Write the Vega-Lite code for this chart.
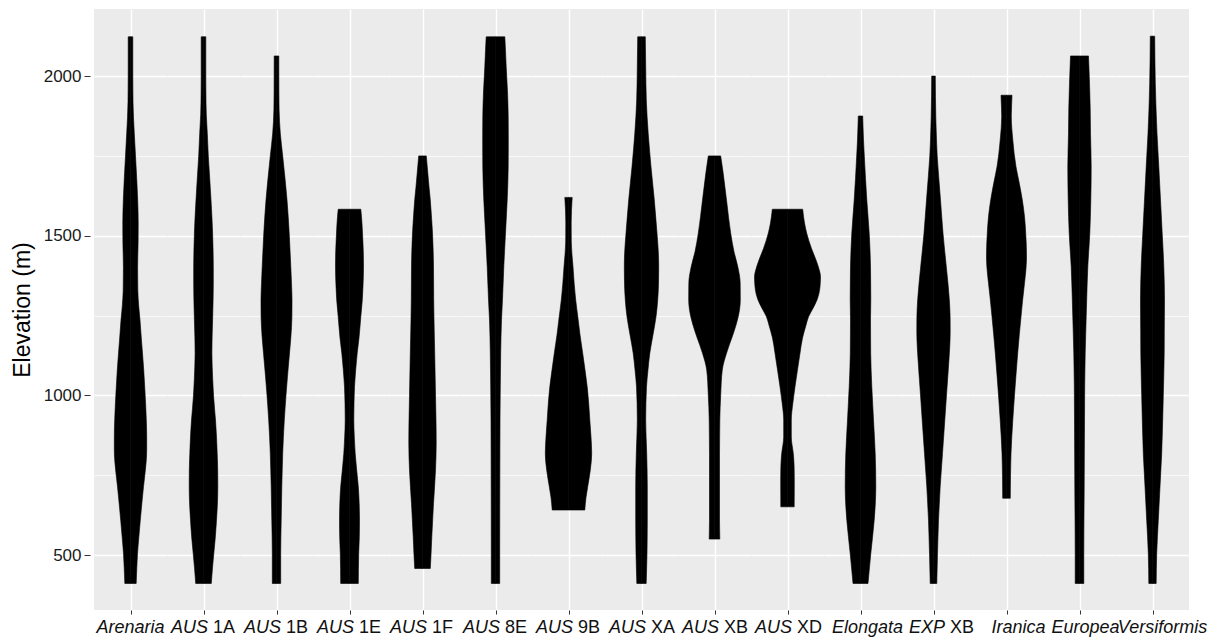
{
  "$schema": "https://vega.github.io/schema/vega-lite/v6.json",
  "padding": {"left": 11, "top": 9, "right": 5, "bottom": 0},
  "background": "white",
  "spacing": 0,
  "bounds": "flush",
  "data": {"values": [
    {"sp":"Arenaria","e":2123,"w":2.3},{"sp":"Arenaria","e":2000,"w":2.3},{"sp":"Arenaria","e":1920,"w":2.5},{"sp":"Arenaria","e":1870,"w":3},{"sp":"Arenaria","e":1820,"w":3.8},{"sp":"Arenaria","e":1750,"w":5},{"sp":"Arenaria","e":1680,"w":6.2},{"sp":"Arenaria","e":1610,"w":7.2},{"sp":"Arenaria","e":1540,"w":7.7},{"sp":"Arenaria","e":1480,"w":7.6},{"sp":"Arenaria","e":1400,"w":7.1},{"sp":"Arenaria","e":1330,"w":7.3},{"sp":"Arenaria","e":1280,"w":8.2},{"sp":"Arenaria","e":1236,"w":9.5},{"sp":"Arenaria","e":1180,"w":10.8},{"sp":"Arenaria","e":1132,"w":12},{"sp":"Arenaria","e":1080,"w":13.2},{"sp":"Arenaria","e":1027,"w":14.2},{"sp":"Arenaria","e":975,"w":15.1},{"sp":"Arenaria","e":923,"w":15.8},{"sp":"Arenaria","e":870,"w":16.2},{"sp":"Arenaria","e":830,"w":16.2},{"sp":"Arenaria","e":790,"w":15.6},{"sp":"Arenaria","e":750,"w":14.3},{"sp":"Arenaria","e":714,"w":13},{"sp":"Arenaria","e":660,"w":11.3},{"sp":"Arenaria","e":609,"w":9.8},{"sp":"Arenaria","e":555,"w":8.3},{"sp":"Arenaria","e":505,"w":7},{"sp":"Arenaria","e":460,"w":6.3},{"sp":"Arenaria","e":411,"w":5.7},

    {"sp":"AUS 1A","e":2123,"w":2.3},{"sp":"AUS 1A","e":2000,"w":2.3},{"sp":"AUS 1A","e":1950,"w":2.4},{"sp":"AUS 1A","e":1880,"w":2.8},{"sp":"AUS 1A","e":1820,"w":3.8},{"sp":"AUS 1A","e":1750,"w":4.8},{"sp":"AUS 1A","e":1680,"w":6.2},{"sp":"AUS 1A","e":1612,"w":7.5},{"sp":"AUS 1A","e":1560,"w":8.4},{"sp":"AUS 1A","e":1508,"w":9.1},{"sp":"AUS 1A","e":1450,"w":9.6},{"sp":"AUS 1A","e":1403,"w":9.8},{"sp":"AUS 1A","e":1350,"w":9.8},{"sp":"AUS 1A","e":1300,"w":9.6},{"sp":"AUS 1A","e":1236,"w":9.1},{"sp":"AUS 1A","e":1180,"w":8.6},{"sp":"AUS 1A","e":1132,"w":8.4},{"sp":"AUS 1A","e":1090,"w":8.7},{"sp":"AUS 1A","e":1050,"w":9.2},{"sp":"AUS 1A","e":1001,"w":10},{"sp":"AUS 1A","e":960,"w":11},{"sp":"AUS 1A","e":923,"w":12},{"sp":"AUS 1A","e":870,"w":13},{"sp":"AUS 1A","e":818,"w":13.7},{"sp":"AUS 1A","e":766,"w":14.2},{"sp":"AUS 1A","e":714,"w":14.3},{"sp":"AUS 1A","e":660,"w":13.9},{"sp":"AUS 1A","e":609,"w":13},{"sp":"AUS 1A","e":555,"w":11.8},{"sp":"AUS 1A","e":505,"w":10.3},{"sp":"AUS 1A","e":460,"w":9},{"sp":"AUS 1A","e":411,"w":7.8},

    {"sp":"AUS 1B","e":2063,"w":2.3},{"sp":"AUS 1B","e":1950,"w":2.4},{"sp":"AUS 1B","e":1894,"w":2.6},{"sp":"AUS 1B","e":1821,"w":3.8},{"sp":"AUS 1B","e":1750,"w":6.2},{"sp":"AUS 1B","e":1680,"w":8.5},{"sp":"AUS 1B","e":1612,"w":10.5},{"sp":"AUS 1B","e":1560,"w":11.7},{"sp":"AUS 1B","e":1508,"w":12.7},{"sp":"AUS 1B","e":1450,"w":13.6},{"sp":"AUS 1B","e":1403,"w":14.3},{"sp":"AUS 1B","e":1350,"w":15},{"sp":"AUS 1B","e":1300,"w":15.5},{"sp":"AUS 1B","e":1246,"w":15.4},{"sp":"AUS 1B","e":1180,"w":14.3},{"sp":"AUS 1B","e":1132,"w":13},{"sp":"AUS 1B","e":1060,"w":11},{"sp":"AUS 1B","e":1001,"w":9.5},{"sp":"AUS 1B","e":923,"w":7.8},{"sp":"AUS 1B","e":818,"w":6.2},{"sp":"AUS 1B","e":714,"w":5.3},{"sp":"AUS 1B","e":609,"w":4.7},{"sp":"AUS 1B","e":505,"w":4.2},{"sp":"AUS 1B","e":411,"w":4.2},

    {"sp":"AUS 1E","e":1583,"w":11.3},{"sp":"AUS 1E","e":1560,"w":12},{"sp":"AUS 1E","e":1508,"w":13},{"sp":"AUS 1E","e":1450,"w":13.8},{"sp":"AUS 1E","e":1403,"w":14},{"sp":"AUS 1E","e":1350,"w":13.6},{"sp":"AUS 1E","e":1299,"w":12.8},{"sp":"AUS 1E","e":1246,"w":11.3},{"sp":"AUS 1E","e":1180,"w":9.5},{"sp":"AUS 1E","e":1132,"w":7.7},{"sp":"AUS 1E","e":1080,"w":6.2},{"sp":"AUS 1E","e":1027,"w":5},{"sp":"AUS 1E","e":975,"w":4.5},{"sp":"AUS 1E","e":923,"w":4.3},{"sp":"AUS 1E","e":870,"w":4.8},{"sp":"AUS 1E","e":818,"w":5.7},{"sp":"AUS 1E","e":766,"w":7.2},{"sp":"AUS 1E","e":714,"w":8.8},{"sp":"AUS 1E","e":660,"w":9.7},{"sp":"AUS 1E","e":609,"w":10},{"sp":"AUS 1E","e":555,"w":9.8},{"sp":"AUS 1E","e":505,"w":9.2},{"sp":"AUS 1E","e":411,"w":8.8},

    {"sp":"AUS 1F","e":1750,"w":3.8},{"sp":"AUS 1F","e":1700,"w":5.2},{"sp":"AUS 1F","e":1650,"w":6.6},{"sp":"AUS 1F","e":1612,"w":7.8},{"sp":"AUS 1F","e":1550,"w":9.2},{"sp":"AUS 1F","e":1508,"w":10},{"sp":"AUS 1F","e":1450,"w":10.7},{"sp":"AUS 1F","e":1403,"w":11},{"sp":"AUS 1F","e":1300,"w":11.2},{"sp":"AUS 1F","e":1236,"w":11.5},{"sp":"AUS 1F","e":1132,"w":12.2},{"sp":"AUS 1F","e":1001,"w":13},{"sp":"AUS 1F","e":900,"w":13.6},{"sp":"AUS 1F","e":850,"w":13.7},{"sp":"AUS 1F","e":766,"w":13},{"sp":"AUS 1F","e":700,"w":11.8},{"sp":"AUS 1F","e":661,"w":11},{"sp":"AUS 1F","e":600,"w":10},{"sp":"AUS 1F","e":557,"w":9.3},{"sp":"AUS 1F","e":500,"w":8.5},{"sp":"AUS 1F","e":458,"w":7.8},

    {"sp":"AUS 8E","e":2123,"w":9.3},{"sp":"AUS 8E","e":2080,"w":10},{"sp":"AUS 8E","e":2029,"w":10.7},{"sp":"AUS 8E","e":1950,"w":12},{"sp":"AUS 8E","e":1873,"w":12.7},{"sp":"AUS 8E","e":1800,"w":12.8},{"sp":"AUS 8E","e":1716,"w":12.7},{"sp":"AUS 8E","e":1612,"w":11.7},{"sp":"AUS 8E","e":1508,"w":10},{"sp":"AUS 8E","e":1403,"w":8.3},{"sp":"AUS 8E","e":1300,"w":7},{"sp":"AUS 8E","e":1236,"w":6},{"sp":"AUS 8E","e":1132,"w":5.2},{"sp":"AUS 8E","e":1030,"w":4.8},{"sp":"AUS 8E","e":923,"w":4.5},{"sp":"AUS 8E","e":714,"w":4.3},{"sp":"AUS 8E","e":505,"w":4.2},{"sp":"AUS 8E","e":411,"w":4.2},

    {"sp":"AUS 9B","e":1620,"w":3.7},{"sp":"AUS 9B","e":1580,"w":3},{"sp":"AUS 9B","e":1540,"w":2.7},{"sp":"AUS 9B","e":1480,"w":2.8},{"sp":"AUS 9B","e":1403,"w":4.5},{"sp":"AUS 9B","e":1350,"w":5.7},{"sp":"AUS 9B","e":1299,"w":7.2},{"sp":"AUS 9B","e":1246,"w":9.3},{"sp":"AUS 9B","e":1190,"w":11.5},{"sp":"AUS 9B","e":1132,"w":14.2},{"sp":"AUS 9B","e":1080,"w":16.5},{"sp":"AUS 9B","e":1027,"w":18.7},{"sp":"AUS 9B","e":975,"w":20.2},{"sp":"AUS 9B","e":923,"w":21.3},{"sp":"AUS 9B","e":870,"w":22.5},{"sp":"AUS 9B","e":818,"w":23.2},{"sp":"AUS 9B","e":766,"w":21.8},{"sp":"AUS 9B","e":714,"w":19.2},{"sp":"AUS 9B","e":680,"w":17.5},{"sp":"AUS 9B","e":641,"w":16.3},

    {"sp":"AUS XA","e":2123,"w":3.8},{"sp":"AUS XA","e":2029,"w":4.2},{"sp":"AUS XA","e":1925,"w":4.8},{"sp":"AUS XA","e":1821,"w":6.7},{"sp":"AUS XA","e":1716,"w":9.5},{"sp":"AUS XA","e":1612,"w":12.8},{"sp":"AUS XA","e":1508,"w":15.5},{"sp":"AUS XA","e":1450,"w":16.8},{"sp":"AUS XA","e":1403,"w":17.2},{"sp":"AUS XA","e":1350,"w":17},{"sp":"AUS XA","e":1299,"w":16.2},{"sp":"AUS XA","e":1246,"w":14.5},{"sp":"AUS XA","e":1190,"w":11.5},{"sp":"AUS XA","e":1132,"w":8.3},{"sp":"AUS XA","e":1080,"w":6.5},{"sp":"AUS XA","e":1027,"w":5},{"sp":"AUS XA","e":923,"w":4.2},{"sp":"AUS XA","e":818,"w":5.2},{"sp":"AUS XA","e":714,"w":5.8},{"sp":"AUS XA","e":609,"w":5.8},{"sp":"AUS XA","e":505,"w":5.5},{"sp":"AUS XA","e":411,"w":4.7},

    {"sp":"AUS XB","e":1750,"w":6.2},{"sp":"AUS XB","e":1700,"w":8.5},{"sp":"AUS XB","e":1612,"w":12},{"sp":"AUS XB","e":1508,"w":16.2},{"sp":"AUS XB","e":1450,"w":19.5},{"sp":"AUS XB","e":1403,"w":23.3},{"sp":"AUS XB","e":1351,"w":25.7},{"sp":"AUS XB","e":1299,"w":25.8},{"sp":"AUS XB","e":1246,"w":23.7},{"sp":"AUS XB","e":1200,"w":19.5},{"sp":"AUS XB","e":1160,"w":15},{"sp":"AUS XB","e":1132,"w":12},{"sp":"AUS XB","e":1080,"w":7.8},{"sp":"AUS XB","e":1001,"w":6.2},{"sp":"AUS XB","e":923,"w":5.3},{"sp":"AUS XB","e":818,"w":5},{"sp":"AUS XB","e":609,"w":5},{"sp":"AUS XB","e":550,"w":5.3},

    {"sp":"AUS XD","e":1583,"w":15.2},{"sp":"AUS XD","e":1540,"w":17},{"sp":"AUS XD","e":1508,"w":19.2},{"sp":"AUS XD","e":1460,"w":24},{"sp":"AUS XD","e":1424,"w":28.5},{"sp":"AUS XD","e":1390,"w":32},{"sp":"AUS XD","e":1372,"w":33},{"sp":"AUS XD","e":1340,"w":32.5},{"sp":"AUS XD","e":1299,"w":29.5},{"sp":"AUS XD","e":1270,"w":25},{"sp":"AUS XD","e":1246,"w":21},{"sp":"AUS XD","e":1220,"w":18.5},{"sp":"AUS XD","e":1180,"w":15},{"sp":"AUS XD","e":1132,"w":12.5},{"sp":"AUS XD","e":1080,"w":10},{"sp":"AUS XD","e":1027,"w":7.5},{"sp":"AUS XD","e":975,"w":5.3},{"sp":"AUS XD","e":923,"w":3.8},{"sp":"AUS XD","e":870,"w":3.8},{"sp":"AUS XD","e":818,"w":5.8},{"sp":"AUS XD","e":780,"w":6.6},{"sp":"AUS XD","e":735,"w":6.8},{"sp":"AUS XD","e":651,"w":6.7},

    {"sp":"Elongata","e":1875,"w":2.2},{"sp":"Elongata","e":1800,"w":3},{"sp":"Elongata","e":1750,"w":3.8},{"sp":"Elongata","e":1680,"w":5},{"sp":"Elongata","e":1612,"w":6.3},{"sp":"Elongata","e":1508,"w":8.7},{"sp":"Elongata","e":1403,"w":10},{"sp":"Elongata","e":1300,"w":10.3},{"sp":"Elongata","e":1236,"w":10},{"sp":"Elongata","e":1132,"w":10.2},{"sp":"Elongata","e":1027,"w":11.3},{"sp":"Elongata","e":923,"w":13},{"sp":"Elongata","e":818,"w":14.7},{"sp":"Elongata","e":714,"w":15.3},{"sp":"Elongata","e":660,"w":14.8},{"sp":"Elongata","e":609,"w":13.7},{"sp":"Elongata","e":555,"w":12},{"sp":"Elongata","e":505,"w":10.3},{"sp":"Elongata","e":411,"w":7.5},

    {"sp":"EXP XB","e":2000,"w":1.8},{"sp":"EXP XB","e":1873,"w":2.3},{"sp":"EXP XB","e":1800,"w":3},{"sp":"EXP XB","e":1750,"w":3.7},{"sp":"EXP XB","e":1680,"w":5.3},{"sp":"EXP XB","e":1612,"w":7},{"sp":"EXP XB","e":1508,"w":9.5},{"sp":"EXP XB","e":1403,"w":12.8},{"sp":"EXP XB","e":1350,"w":14.5},{"sp":"EXP XB","e":1300,"w":15.8},{"sp":"EXP XB","e":1246,"w":16.6},{"sp":"EXP XB","e":1200,"w":16.7},{"sp":"EXP XB","e":1150,"w":16.2},{"sp":"EXP XB","e":1100,"w":15.2},{"sp":"EXP XB","e":1050,"w":14.1},{"sp":"EXP XB","e":1001,"w":13},{"sp":"EXP XB","e":923,"w":11.3},{"sp":"EXP XB","e":818,"w":9},{"sp":"EXP XB","e":714,"w":6.7},{"sp":"EXP XB","e":609,"w":5},{"sp":"EXP XB","e":505,"w":4},{"sp":"EXP XB","e":411,"w":3.3},

    {"sp":"Iranica","e":1940,"w":5.5},{"sp":"Iranica","e":1900,"w":5},{"sp":"Iranica","e":1873,"w":4.8},{"sp":"Iranica","e":1800,"w":6.3},{"sp":"Iranica","e":1716,"w":9.5},{"sp":"Iranica","e":1664,"w":12.8},{"sp":"Iranica","e":1612,"w":15.8},{"sp":"Iranica","e":1560,"w":18},{"sp":"Iranica","e":1508,"w":19.2},{"sp":"Iranica","e":1470,"w":19.8},{"sp":"Iranica","e":1430,"w":20},{"sp":"Iranica","e":1390,"w":19.3},{"sp":"Iranica","e":1351,"w":18},{"sp":"Iranica","e":1300,"w":16.2},{"sp":"Iranica","e":1246,"w":14.5},{"sp":"Iranica","e":1190,"w":12.8},{"sp":"Iranica","e":1132,"w":11.2},{"sp":"Iranica","e":1060,"w":9.4},{"sp":"Iranica","e":1001,"w":8},{"sp":"Iranica","e":923,"w":6.3},{"sp":"Iranica","e":818,"w":4.5},{"sp":"Iranica","e":750,"w":4},{"sp":"Iranica","e":678,"w":3.8},

    {"sp":"Europea","e":2063,"w":9},{"sp":"Europea","e":1977,"w":10},{"sp":"Europea","e":1900,"w":10.7},{"sp":"Europea","e":1821,"w":11},{"sp":"Europea","e":1716,"w":11.7},{"sp":"Europea","e":1612,"w":11.3},{"sp":"Europea","e":1508,"w":10.3},{"sp":"Europea","e":1403,"w":8.3},{"sp":"Europea","e":1300,"w":7.2},{"sp":"Europea","e":1246,"w":6.7},{"sp":"Europea","e":1132,"w":5.7},{"sp":"Europea","e":1030,"w":5.2},{"sp":"Europea","e":923,"w":5},{"sp":"Europea","e":714,"w":4.7},{"sp":"Europea","e":505,"w":4.3},{"sp":"Europea","e":411,"w":4.3},

    {"sp":"Versiformis","e":2125,"w":2.2},{"sp":"Versiformis","e":1977,"w":2.8},{"sp":"Versiformis","e":1900,"w":3.5},{"sp":"Versiformis","e":1821,"w":4.5},{"sp":"Versiformis","e":1716,"w":6.3},{"sp":"Versiformis","e":1612,"w":8},{"sp":"Versiformis","e":1508,"w":9.7},{"sp":"Versiformis","e":1403,"w":11.3},{"sp":"Versiformis","e":1300,"w":12},{"sp":"Versiformis","e":1200,"w":11.8},{"sp":"Versiformis","e":1132,"w":11.7},{"sp":"Versiformis","e":1001,"w":10.8},{"sp":"Versiformis","e":923,"w":10.2},{"sp":"Versiformis","e":818,"w":9.2},{"sp":"Versiformis","e":714,"w":7.5},{"sp":"Versiformis","e":609,"w":5.8},{"sp":"Versiformis","e":505,"w":4.2},{"sp":"Versiformis","e":411,"w":3.7},

    {"sp":"Arenaria","full":"Arenaria"},
    {"sp":"AUS 1A","it":"AUS","ro":"1A"},
    {"sp":"AUS 1B","it":"AUS","ro":"1B"},
    {"sp":"AUS 1E","it":"AUS","ro":"1E"},
    {"sp":"AUS 1F","it":"AUS","ro":"1F"},
    {"sp":"AUS 8E","it":"AUS","ro":"8E"},
    {"sp":"AUS 9B","it":"AUS","ro":"9B"},
    {"sp":"AUS XA","it":"AUS","ro":"XA"},
    {"sp":"AUS XB","it":"AUS","ro":"XB"},
    {"sp":"AUS XD","it":"AUS","ro":"XD"},
    {"sp":"Elongata","full":"Elongata"},
    {"sp":"EXP XB","it":"EXP","ro":"XB"},
    {"sp":"Iranica","full":"Iranica"},
    {"sp":"Europea","full":"Europea"},
    {"sp":"Versiformis","full":"Versiformis"}
  ]},
  "facet": {
    "column": {
      "field": "sp",
      "type": "nominal",
      "sort": ["Arenaria","AUS 1A","AUS 1B","AUS 1E","AUS 1F","AUS 8E","AUS 9B","AUS XA","AUS XB","AUS XD","Elongata","EXP XB","Iranica","Europea","Versiformis"],
      "header": null
    }
  },
  "resolve": {"scale": {"x": "independent"}, "axis": {"x": "independent"}},
  "spec": {
    "width": 73,
    "height": 601,
    "resolve": {"scale": {"x": "independent"}, "axis": {"x": "independent"}},
    "layer": [
      {
        "transform": [{"filter": "isValid(datum.e)"}],
        "mark": {"type": "area", "orient": "horizontal", "interpolate": "monotone", "color": "black", "stroke": "black", "strokeWidth": 0.6},
        "encoding": {
          "y": {
            "field": "e", "type": "quantitative",
            "scale": {"domain": [328, 2210], "nice": false, "zero": false},
            "axis": {
              "title": "Elevation (m)",
              "values": [500, 750, 1000, 1250, 1500, 1750, 2000],
              "format": "d",
              "labelExpr": "datum.value % 500 === 0 ? datum.label : ''",
              "tickOpacity": {"condition": {"test": "datum.value % 500 === 0", "value": 1}, "value": 0},
              "gridWidth": {"condition": {"test": "datum.value % 500 === 0", "value": 1.4}, "value": 0.7},
              "grid": true,
              "gridColor": "white",
              "domain": false,
              "offset": 4,
              "tickColor": "#333333",
              "tickSize": 6,
              "tickWidth": 1,
              "labelPadding": 3,
              "minExtent": 47,
              "maxExtent": 47,
              "labelFont": "Liberation Sans",
              "labelFontSize": 17,
              "labelColor": "#1a1a1a",
              "titleFont": "Liberation Sans",
              "titleFontSize": 23,
              "titleFontWeight": "normal",
              "titleColor": "black",
              "titlePadding": 9
            }
          },
          "x": {
            "field": "w", "type": "quantitative", "stack": null,
            "scale": {"domain": [-36.5, 36.5], "nice": false},
            "axis": {
              "values": [0],
              "grid": true,
              "gridColor": "white",
              "gridWidth": 1.4,
              "labels": false,
              "domain": false,
              "ticks": true,
              "tickColor": "#333333",
              "tickSize": 4,
              "tickWidth": 1,
              "title": null
            }
          }
        }
      },
      {
        "transform": [{"filter": "isValid(datum.e)"}],
        "mark": {"type": "area", "orient": "horizontal", "interpolate": "monotone", "color": "black", "stroke": "black", "strokeWidth": 0.6},
        "encoding": {
          "y": {"field": "e", "type": "quantitative"},
          "x": {
            "field": "w", "type": "quantitative", "stack": null,
            "scale": {"domain": [-36.5, 36.5], "nice": false, "reverse": true},
            "axis": null
          }
        }
      },
      {
        "transform": [{"filter": "isValid(datum.full)"}],
        "mark": {"type": "text", "font": "Liberation Sans", "fontSize": 18, "fontStyle": "italic", "color": "#111111", "align": "center", "baseline": "alphabetic",
          "dx": {"expr": "datum.sp === 'Elongata' ? 7 : datum.sp === 'Iranica' ? 12 : datum.sp === 'Europea' ? 6 : datum.sp === 'Versiformis' ? 10 : 0"}},
        "encoding": {
          "x": {"datum": 0, "type": "quantitative", "scale": {"domain": [-36.5, 36.5], "nice": false}, "axis": null},
          "y": {"datum": 256, "type": "quantitative"},
          "text": {"field": "full"}
        }
      },
      {
        "transform": [{"filter": "isValid(datum.it)"}],
        "mark": {"type": "text", "font": "Liberation Sans", "fontSize": 18, "fontStyle": "italic", "color": "#111111", "align": "right", "baseline": "alphabetic",
          "dx": {"expr": "datum.sp === 'EXP XB' ? 11.5 : 4.5"}},
        "encoding": {
          "x": {"datum": 0, "type": "quantitative", "scale": {"domain": [-36.5, 36.5], "nice": false}, "axis": null},
          "y": {"datum": 256, "type": "quantitative"},
          "text": {"field": "it"}
        }
      },
      {
        "transform": [{"filter": "isValid(datum.ro)"}],
        "mark": {"type": "text", "font": "Liberation Sans", "fontSize": 18, "color": "#111111", "align": "left", "baseline": "alphabetic",
          "dx": {"expr": "datum.sp === 'EXP XB' ? 16.5 : 9.5"}},
        "encoding": {
          "x": {"datum": 0, "type": "quantitative", "scale": {"domain": [-36.5, 36.5], "nice": false}, "axis": null},
          "y": {"datum": 256, "type": "quantitative"},
          "text": {"field": "ro"}
        }
      }
    ]
  },
  "config": {
    "view": {"fill": "#EBEBEB", "stroke": null},
    "font": "Liberation Sans"
  }
}
